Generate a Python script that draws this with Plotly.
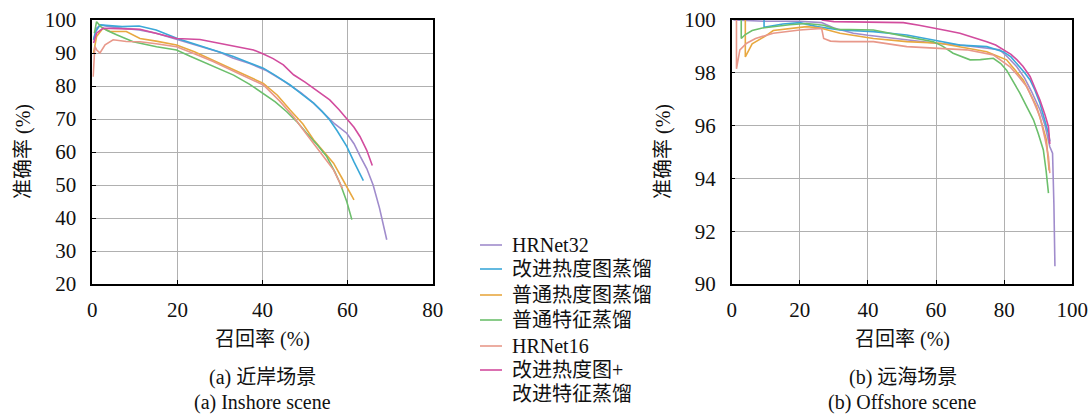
import plotly.graph_objects as go

# ---------------- data ----------------
names = ["HRNet32", "改进热度图蒸馏", "普通热度图蒸馏", "普通特征蒸馏", "HRNet16", "改进热度图+<br>改进特征蒸馏"]
colors = ["#a08ccc", "#3ba8d8", "#e8a840", "#6cbf6c", "#e8988a", "#d24c9e"]

# (a) Inshore scene : recall (%) / precision (%)
in_hr32_x = [0.3, 1.0, 2, 4, 7, 11, 15, 20, 25, 30, 33, 37, 41, 45, 49, 52, 55, 57, 59.8, 61.5, 63, 64.5, 66, 67.5, 69.2]
in_hr32_y = [94, 97.5, 98.5, 98.0, 97.5, 97.0, 96, 94.1, 92.3, 90.2, 88.5, 86.8, 84.6, 81.5, 78, 74.8, 71, 68.5, 65.7, 62.5, 58.6, 55, 50, 43, 33.4]
in_ihd_x = [0.3, 0.8, 1.8, 4, 7, 11, 15, 20, 24, 28.4, 33, 37, 40.2, 43, 46.5, 49, 52, 54, 55.8, 57.5, 59.8, 61.5, 63.7]
in_ihd_y = [94, 96.5, 98.5, 98.2, 98, 98.2, 97, 94.4, 92.8, 90.9, 89, 87, 85.4, 83.2, 80.3, 77.8, 74.8, 72.3, 69.7, 66.5, 61.7, 57, 51.3]
in_hd_x = [0.3, 1, 2.5, 4.2, 8, 11.2, 15, 19.8, 24, 28.4, 34, 40.2, 43.5, 46.5, 49.5, 52, 54.5, 56.7, 58.5, 59.8, 61.5]
in_hd_y = [90, 95, 97.5, 96.5, 96.5, 94.4, 93.6, 92.4, 90.4, 87.9, 84.5, 80.8, 77.2, 72.7, 68.5, 63.7, 60, 56.6, 52.5, 49.5, 45.5]
in_fd_x = [0.5, 1, 2, 3.5, 5.7, 9.6, 15.1, 19.8, 23, 26.9, 30, 33.2, 37, 40.2, 43, 45.7, 48, 50.4, 53, 55.1, 57, 58.2, 59.8, 61]
in_fd_y = [96, 99.5, 98, 96.8, 95.5, 93.4, 91.9, 90.9, 89, 86.9, 85.2, 83.3, 80.5, 77.8, 75.2, 72.2, 69.3, 65.7, 62, 58.6, 54, 50.6, 45, 39.5]
in_hr16_x = [0.2, 0.6, 1, 1.8, 3, 4.9, 8, 11.2, 15, 19.8, 24, 28.4, 34, 40.2, 44, 47.3, 50, 52.7, 55, 56.7, 58.8]
in_hr16_y = [82.8, 92, 91, 90, 92.5, 94, 93.5, 93.4, 92.8, 91.9, 89.8, 87.4, 84, 80.3, 75.5, 70.7, 66, 61.6, 57.5, 54.6, 49]
in_best_x = [0.3, 1, 2.5, 5, 8, 11.2, 15, 19.8, 25.3, 30, 34, 37.9, 40.2, 42.5, 44.9, 47.3, 50, 52.7, 55.8, 58, 59.8, 61.5, 62.9, 64.5, 65.8]
in_best_y = [93, 96, 97.5, 97.5, 97.3, 97.2, 96, 94.4, 94.1, 92.9, 92, 90.9, 89.7, 88.3, 86.4, 83.4, 81.2, 78.8, 75.8, 72.8, 70.2, 67.5, 64.7, 60.5, 55.9]

# (b) Offshore scene
off_hr32_x = [0.5, 10, 20, 26.4, 30, 35.7, 40, 51.4, 60, 67, 74, 78.7, 81, 83.7, 86, 88, 90.5, 92, 93.4, 94.2, 94.6, 94.9]
off_hr32_y = [100, 99.95, 99.95, 99.9, 99.7, 99.5, 99.42, 99.24, 99.12, 99.05, 98.95, 98.87, 98.6, 98.23, 97.8, 97.3, 96.6, 96.0, 95.2, 94.96, 93, 90.67]
off_ihd_x = [9.5, 9.5, 15, 20, 25, 31.8, 41.6, 51.4, 59.2, 67, 74.9, 79.7, 82, 83.7, 86, 87.6, 89, 90.5, 92, 93, 93.4]
off_ihd_y = [100, 99.72, 99.85, 99.9, 99.75, 99.62, 99.56, 99.43, 99.24, 99.05, 98.99, 98.8, 98.6, 98.36, 98.0, 97.73, 97.35, 96.85, 96.2, 95.7, 95.4]
off_hd_x = [4.0, 4.0, 6, 10, 12.2, 22, 26, 31.8, 41.6, 51.4, 61.2, 67, 74.9, 80.7, 83, 85.6, 87.5, 89.5, 91, 92.4, 93.2]
off_hd_y = [100, 98.6, 99.1, 99.4, 99.6, 99.75, 99.7, 99.5, 99.3, 99.18, 99.12, 98.99, 98.8, 98.49, 98.15, 97.73, 97.25, 96.72, 96.1, 95.46, 94.3]
off_fd_x = [2.8, 2.8, 4, 6, 9, 12.2, 17, 22, 27, 31, 41.6, 51.4, 59.2, 62, 65, 70, 73, 76.8, 79, 80.7, 82.5, 84.6, 86.5, 88.6, 90, 91.5, 92.3, 93]
off_fd_y = [100, 99.3, 99.45, 99.6, 99.7, 99.75, 99.82, 99.87, 99.8, 99.65, 99.62, 99.37, 99.18, 99.0, 98.74, 98.49, 98.5, 98.55, 98.35, 98.1, 97.7, 97.23, 96.75, 96.22, 95.7, 95.08, 94.3, 93.44]
off_hr16_x = [1.4, 1.4, 2.4, 4.4, 7, 12.2, 20, 26.4, 27, 29, 31.8, 41.6, 51.4, 61.2, 69, 76.8, 79.5, 81.7, 84, 86.6, 88.5, 90.5, 92, 93, 93.4]
off_hr16_y = [100, 98.15, 98.87, 99.12, 99.3, 99.5, 99.62, 99.68, 99.3, 99.2, 99.18, 99.18, 98.99, 98.93, 98.87, 98.68, 98.45, 98.23, 97.9, 97.48, 96.95, 96.34, 95.5, 94.83, 94.2]
off_best_x = [26.4, 30, 40, 50.4, 55, 59.2, 63, 67, 71, 74.9, 77.5, 79.7, 82, 83.7, 85.5, 87.6, 89, 90.5, 92, 93, 93.4]
off_best_y = [100, 99.94, 99.92, 99.9, 99.8, 99.68, 99.6, 99.5, 99.35, 99.18, 99.05, 98.87, 98.7, 98.5, 98.25, 97.86, 97.45, 96.97, 96.4, 95.96, 95.3]

inshore = [(in_hr32_x, in_hr32_y), (in_ihd_x, in_ihd_y), (in_hd_x, in_hd_y),
           (in_fd_x, in_fd_y), (in_hr16_x, in_hr16_y), (in_best_x, in_best_y)]
offshore = [(off_hr32_x, off_hr32_y), (off_ihd_x, off_ihd_y), (off_hd_x, off_hd_y),
            (off_fd_x, off_fd_y), (off_hr16_x, off_hr16_y), (off_best_x, off_best_y)]

in_xticks = [0, 20, 40, 60, 80]
in_yticks = [20, 30, 40, 50, 60, 70, 80, 90, 100]
off_xticks = [0, 20, 40, 60, 80, 100]
off_yticks = [90, 92, 94, 96, 98, 100]

# ---------------- figure ----------------
FONT = "Liberation Serif, 'Noto Sans CJK SC', serif"
W, H = 1088, 414
fig = go.Figure()

for i, (xs, ys) in enumerate(inshore):
    fig.add_trace(go.Scatter(x=xs, y=ys, mode="lines", name=names[i], showlegend=False,
                             line=dict(color=colors[i], width=1.6), xaxis="x", yaxis="y"))
for i, (xs, ys) in enumerate(offshore):
    fig.add_trace(go.Scatter(x=xs, y=ys, mode="lines", name=names[i], showlegend=False,
                             line=dict(color=colors[i], width=1.6), xaxis="x2", yaxis="y2"))

def px(x):   # pixel -> paper x
    return x / W

def py(y):   # pixel -> paper y
    return 1 - y / H

ydom = [py(284), py(20)]
axis_common = dict(showgrid=True, gridcolor="#b0b0b0", gridwidth=1,
                   showline=True, linecolor="black", linewidth=1.5, mirror=True,
                   ticks="inside", ticklen=4, tickcolor="black", zeroline=False,
                   automargin=False, ticklabeloverflow="allow",
                   tickfont=dict(family=FONT, size=21, color="#111"))

fig.update_layout(
    width=W, height=H, margin=dict(l=0, r=0, t=0, b=0, autoexpand=False),
    paper_bgcolor="white", plot_bgcolor="white",
    font=dict(family=FONT, size=20, color="#111"),
    showlegend=False, hovermode=False,
    xaxis=dict(domain=[px(92.3), px(432.7)], range=[0, 80], tickvals=in_xticks,
               ticklabelstandoff=6, **axis_common),
    yaxis=dict(domain=ydom, range=[20, 100], tickvals=in_yticks, anchor="x",
               ticklabelstandoff=10, **axis_common),
    xaxis2=dict(domain=[px(731.7), px(1072.3)], range=[0, 100], tickvals=off_xticks,
                anchor="y2", ticklabelstandoff=6, **axis_common),
    yaxis2=dict(domain=ydom, range=[90, 100], tickvals=off_yticks, anchor="x2",
                ticklabelstandoff=10, **axis_common),
)

def ann(text, x, y, angle=0, xanchor="center", size=20):
    fig.add_annotation(text=text, x=px(x), y=py(y), xref="paper", yref="paper",
                       showarrow=False, textangle=angle, xanchor=xanchor, yanchor="middle",
                       font=dict(family=FONT, size=size, color="#111"))

ann("准确率 (%)", 23, 152, -90)
ann("准确率 (%)", 663, 152, -90)
ann("召回率 (%)", 262, 339)
ann("召回率 (%)", 902, 339)
ann("(a) 近岸场景", 262, 377)
ann("(a) Inshore scene", 262, 402)
ann("(b) 远海场景", 903, 377)
ann("(b) Offshore scene", 902, 402)

# legend (drawn as key lines + labels, one row per series)
row_y = [245, 269, 295, 320, 346, 370]
for i, nm in enumerate(names):
    yy = py(row_y[i])
    fig.add_shape(type="line", xref="paper", yref="paper", x0=px(480), x1=px(502), y0=yy, y1=yy,
                  line=dict(color=colors[i], width=1.6))
    parts = nm.split("<br>")
    for k, p in enumerate(parts):
        ann(p, 510, row_y[i] + 23.5 * k, xanchor="left", size=20)

fig.write_html("out.html", config={"displayModeBar": False},
               post_script="document.body.style.margin='0';document.body.style.overflow='hidden';")
